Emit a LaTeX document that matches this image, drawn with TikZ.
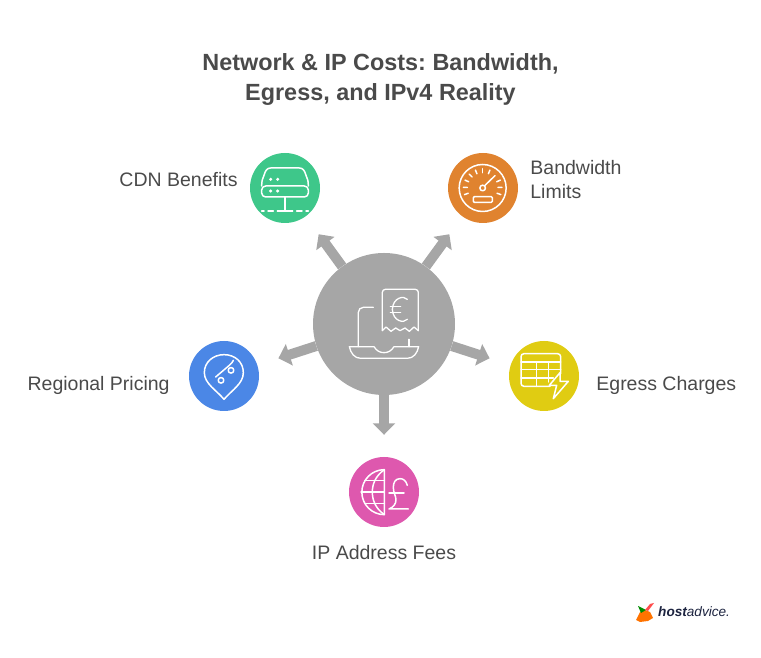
\documentclass[tikz,border=0pt]{standalone}
\usepackage{fontspec}
\setmainfont{Liberation Sans}
\usetikzlibrary{arrows.meta}
\usetikzlibrary{positioning}
\definecolor{spokegray}{HTML}{A6A6A6}
\definecolor{inkgray}{HTML}{4A4A4A}
\definecolor{cdngreen}{HTML}{3EC78A}
\definecolor{gaugeorange}{HTML}{E0832F}
\definecolor{egressyellow}{HTML}{E0CC12}
\definecolor{pinblue}{HTML}{4B87E6}
\definecolor{feepink}{HTML}{DE58AE}
\definecolor{logonavy}{HTML}{1D2440}
\tikzstyle{hubdisc} = [circle, fill=spokegray, minimum size=142pt, inner sep=0pt]
\tikzstyle{satdisc} = [circle, minimum size=70pt, inner sep=0pt, on grid]
\tikzstyle{spoke} = [draw=spokegray, line width=10pt, shorten >=22pt,
    -{Triangle[length=11.5pt,width=22pt]}]
\tikzstyle{tag} = [inner sep=0pt, text=inkgray, font=\fontsize{19.5}{24}\selectfont, align=left]
\tikzstyle{icon} = [draw=white, line width=1.5pt, line cap=round, line join=round, x=.3333pt, y=-.3333pt]
\frenchspacing
\begin{document}
\begin{tikzpicture}[x=1pt,y=1pt]
    \useasboundingbox (0,0) rectangle (761,658);

    \node[inner sep=0pt, align=center, text=inkgray, font=\bfseries\fontsize{23.4}{30}\selectfont] (title) at (380.5,578)
        {Network \& IP Costs: Bandwidth,\\Egress, and IPv4 Reality};

    \node[hubdisc] (hub) at (384,334) {};
    \node[satdisc, fill=cdngreen, above left=136pt and 99pt of hub] (cdn) {};
    \node[satdisc, fill=gaugeorange, above right=136pt and 99pt of hub] (gauge) {};
    \node[satdisc, fill=egressyellow, below right=52pt and 160pt of hub] (egress) {};
    \node[satdisc, fill=pinblue, below left=52pt and 160pt of hub] (regional) {};
    \node[satdisc, fill=feepink, below=168pt of hub] (fees) {};

    \draw[spoke] (hub) -- (cdn);
    \draw[spoke] (hub) -- (gauge);
    \draw[spoke] (hub) -- (egress);
    \draw[spoke] (hub) -- (regional);
    \draw[spoke] (hub) -- (fees);

    \node[tag, left=12pt of cdn, yshift=8pt] (cdnlabel) {CDN Benefits};
    \node[tag, right=12pt of gauge, yshift=8pt] (gaugelabel) {Bandwidth\\Limits};
    \node[tag, right=17pt of egress, yshift=-9pt] (egresslabel) {Egress Charges};
    \node[tag, left=19pt of regional, yshift=-9pt] (regionallabel) {Regional Pricing};
    \node[tag, below=18pt of fees] (feeslabel) {IP Address Fees};

    % hub icon
    \begin{scope}[icon, line width=1.3pt, shift={(hub)}, shift={(-252,-252)}]
        \draw[rounded corners=3pt] (247,272) -- (247,148) -- (355,148) -- (355,272);
        \draw (247,272) -- (258,261) -- (273,274) -- (287,264) -- (300,272) -- (315,264) -- (328,274) -- (342,261) -- (355,272);
        \draw (322,178) .. controls (312,166) and (279,172) .. (277,208) .. controls (279,245) and (312,250) .. (322,238);
        \draw (271,200) -- (302,200) (271,218) -- (302,218);
        \draw[rounded corners=5pt] (220,202) -- (175,202) -- (175,320);
        \draw (327,298) -- (327,320);
        \draw (148,320) -- (222,320) .. controls (230,333) and (240,338) .. (252,338) .. controls (264,338) and (274,333) .. (282,320) -- (356,320)
            .. controls (352,340) and (340,355) .. (322,355) -- (182,355) .. controls (164,355) and (152,340) .. cycle;
    \end{scope}

    % cdn icon
    \begin{scope}[icon, shift={(cdn)}, shift={(-135,-128)}]
        \draw (65,122) .. controls (65,105) and (68,100) .. (72,90) .. controls (76,75) and (82,68) .. (92,68) -- (178,68)
            .. controls (188,68) and (194,75) .. (198,90) .. controls (202,100) and (205,105) .. (205,122);
        \draw[rounded corners=4pt] (65,122) rectangle (205,155);
        \draw (135,155) -- (135,197);
        \draw (65,197) -- (72,197) (84,197) -- (100,197) (112,197) -- (158,197) (170,197) -- (186,197) (198,197) -- (205,197);
        \foreach \x in {92,113} {
            \fill[white] (\x,102) circle (1.7pt);
            \fill[white] (\x,137) circle (1.7pt);
        }
    \end{scope}

    % gauge icon
    \begin{scope}[icon, shift={(gauge)}, shift={(-129,-129)}]
        \draw (128,129) circle (23.5pt);
        \draw (128,129) circle (2.8pt);
        \draw (134,122) -- (165,92);
        \draw[rounded corners=1pt] (100,155) rectangle (157,172);
        \foreach \a in {-200,-178,-156,-134,-112,-90,-68,-24,-2,20} {
            \draw (128,129) ++(\a:46) -- ++(\a:12);
        }
    \end{scope}

    % egress icon
    \begin{scope}[icon, shift={(egress)}, shift={(-132,-132)}]
        \draw[rounded corners=3pt] (150,163) -- (63,163) -- (63,65) -- (182,65) -- (182,125);
        \draw (63,90) -- (182,90) (63,113) -- (182,113) (63,138) -- (160,138);
        \draw (110,90) -- (110,163) (145,90) -- (145,150);
        \draw (180,122) -- (148,160) -- (170,160) -- (160,200) -- (205,148) -- (180,148) -- cycle;
    \end{scope}

    % regional icon
    \begin{scope}[icon, shift={(regional)}, shift={(-132,-132)}]
        \draw (132,202) .. controls (110,175) and (73,155) .. (73,122) .. controls (73,90) and (100,68) .. (132,68)
            .. controls (165,68) and (190,90) .. (190,122) .. controls (190,155) and (155,175) .. cycle;
        \draw (123,145) circle (2.8pt);
        \draw (153,115) circle (2.8pt);
        \draw (107,135) -- (148,100) .. controls (154,95) and (158,90) .. (160,85);
    \end{scope}

    % fees icon
    \begin{scope}[icon, shift={(fees)}, shift={(-132,-132)}]
        \draw (133,65) arc (90:270:22.5pt and 22.5pt) -- cycle;
        \draw (133,65) .. controls (105,85) and (97,110) .. (97,132) .. controls (97,155) and (105,180) .. (133,200);
        \draw (74,98) -- (133,98) (63,132) -- (133,132) (74,166) -- (133,166);
        \draw (202,112) .. controls (198,98) and (190,92) .. (180,92) .. controls (165,92) and (160,105) .. (160,118)
            .. controls (160,135) and (168,145) .. (168,155) .. controls (168,168) and (160,178) .. (147,183) -- (205,183);
        \draw (147,135) -- (192,135);
    \end{scope}

    % logo
    \fill[orange!90!red] (636,38) -- (640,46) -- (645,48) -- (650,46) -- (653,40) -- (648,37) -- (640,36) -- cycle;
    \fill[green!55!black] (638,52) -- (646,48) -- (641,45) -- cycle;
    \fill[red!70!white] (654,55) -- (648,47) -- (645,48) -- (650,54) -- cycle;
    \node[inner sep=0pt, anchor=west, text=logonavy, font=\itshape\fontsize{13.6}{16}\selectfont] (logo) at (658,46)
        {\textbf{host}advice.};
\end{tikzpicture}
\end{document}
